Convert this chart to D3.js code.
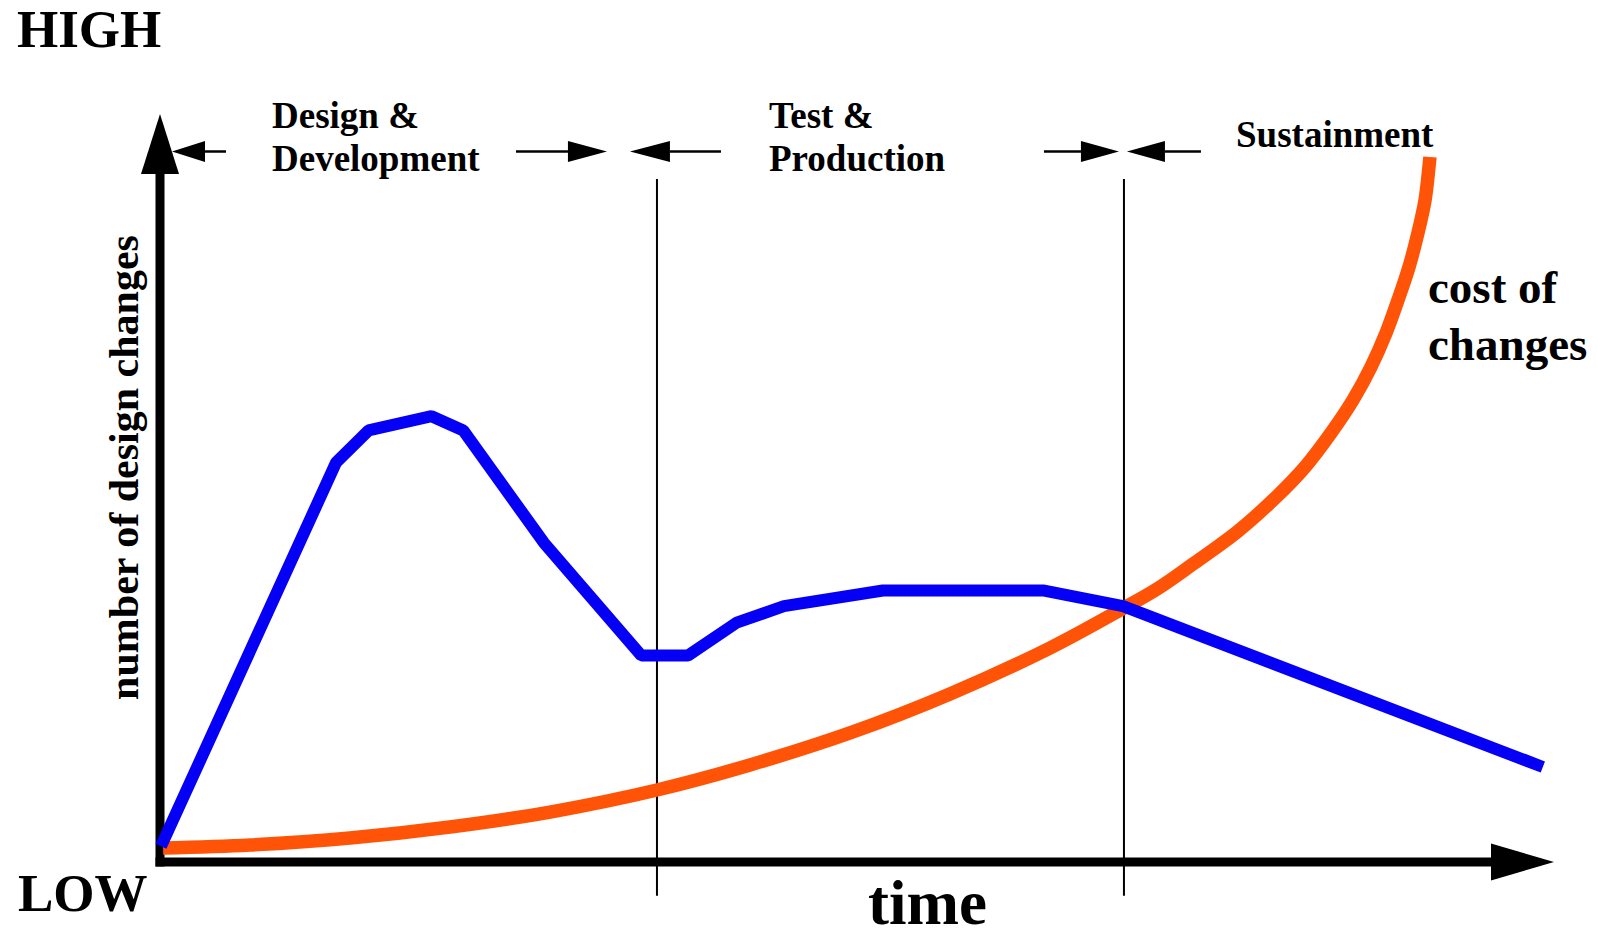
<!DOCTYPE html>
<html>
<head>
<meta charset="utf-8">
<script src="https://cdn.jsdelivr.net/npm/d3@7/dist/d3.min.js"></script>
<style>
  html, body { margin: 0; padding: 0; background: #fff; }
  svg { display: block; }
  text { font-family: "Liberation Serif", "Times New Roman", serif; font-weight: bold; fill: #000; }
</style>
</head>
<body>
<svg id="chart" width="1598" height="933"></svg>
<script>
// ---- data (time 0..100, level 0..100) ----
const designTime   = [0.07, 12.63, 14.96, 19.48, 21.76, 27.53, 34.53, 37.88, 41.37, 44.76, 51.86, 58.75, 63.34, 69.08, 99.2];
const designValues = [2.1, 53.4, 57.7, 59.6, 57.7, 42.7, 27.6, 27.6, 32.0, 34.2, 36.3, 36.3, 36.3, 34.2, 12.7];

const costTime   = [0.22, 6.46, 13.63, 20.80, 27.98, 35.65, 42.32, 49.50, 56.67, 63.85, 69.01, 71.52, 74.10, 77.26, 79.91, 82.14, 84.00, 85.58, 86.87, 87.95, 88.81, 89.60, 90.24, 90.75, 91.03, 91.10];
const costValues = [1.87, 2.27, 3.21, 4.68, 6.68, 9.63, 12.97, 17.25, 22.46, 28.61, 33.82, 36.50, 39.84, 44.12, 48.50, 52.81, 57.35, 61.76, 66.18, 70.72, 75.13, 79.55, 84.09, 88.50, 92.91, 94.25];

const phaseBoundaries = [35.65, 69.15];
const phaseNames = [["Design &", "Development"], ["Test &", "Production"], ["Sustainment"]];
const axisLabels = { high: "HIGH", low: "LOW", x: "time", y: "number of design changes" };
const curveLabel = ["cost of", "changes"];

// ---- scales ----
const x = d3.scaleLinear().domain([0, 100]).range([160, 1554]);
const y = d3.scaleLinear().domain([0, 100]).range([862, 114]);

const svg = d3.select("#chart");

// phase divider lines
svg.selectAll("line.phase").data(phaseBoundaries).enter().append("line")
  .attr("class", "phase")
  .attr("x1", d => x(d)).attr("x2", d => x(d))
  .attr("y1", y(91.3)).attr("y2", y(-4.5))
  .attr("stroke", "#000").attr("stroke-width", 2);

// axes
const axisW = 9;
svg.append("line").attr("x1", x(0)).attr("x2", x(0)).attr("y1", y(0) + axisW / 2).attr("y2", y(100) + 55)
  .attr("stroke", "#000").attr("stroke-width", axisW);
svg.append("line").attr("x1", x(0) - axisW / 2).attr("x2", x(100) - 60).attr("y1", y(0)).attr("y2", y(0))
  .attr("stroke", "#000").attr("stroke-width", axisW);
// arrowheads
svg.append("path")
  .attr("d", `M${x(0)},${y(100)} L${x(0) - 19},${y(100) + 60} L${x(0) + 19},${y(100) + 60} Z`)
  .attr("fill", "#000");
svg.append("path")
  .attr("d", `M${x(100)},${y(0)} L${x(100) - 63},${y(0) - 18.5} L${x(100) - 63},${y(0) + 18.5} Z`)
  .attr("fill", "#000");

// phase arrows
const arrowY = 151.5;
function arrow(tip, base, tail) {
  const g = svg.append("g");
  g.append("line").attr("x1", base).attr("x2", tail).attr("y1", arrowY).attr("y2", arrowY)
    .attr("stroke", "#000").attr("stroke-width", 2.5);
  g.append("path")
    .attr("d", `M${tip},${arrowY} L${base},${arrowY - 10.5} L${base},${arrowY + 10.5} Z`)
    .attr("fill", "#000");
}
const b0 = x(0), b1 = x(phaseBoundaries[0]), b2 = x(phaseBoundaries[1]);
arrow(b0 + 12, b0 + 45, b0 + 66);
arrow(b1 - 50, b1 - 89, b1 - 141);
arrow(b1 - 27, b1 + 13, b1 + 64);
arrow(b2 - 5, b2 - 43, b2 - 80);
arrow(b2 + 3, b2 + 41, b2 + 77);

// phase labels
const labelPos = [[272, 127.5], [769, 127.5], [1236, 147]];
phaseNames.forEach((lines, i) => {
  const t = svg.append("text").attr("x", labelPos[i][0]).attr("y", labelPos[i][1]).attr("font-size", 37);
  lines.forEach((s, j) => {
    t.append("tspan").attr("x", labelPos[i][0]).attr("dy", j === 0 ? 0 : 43.5).text(s);
  });
});

// cost curve
const costData = costTime.map((t, i) => [t, costValues[i]]);
svg.append("path").datum(costData)
  .attr("d", d3.line().x(d => x(d[0])).y(d => y(d[1])).curve(d3.curveCatmullRom.alpha(0.5)))
  .attr("fill", "none").attr("stroke", "#ff5408").attr("stroke-width", 13.5);

// design changes line
const designData = designTime.map((t, i) => [t, designValues[i]]);
svg.append("path").datum(designData)
  .attr("d", d3.line().x(d => x(d[0])).y(d => y(d[1])))
  .attr("fill", "none").attr("stroke", "#0500f5").attr("stroke-width", 12)
  .attr("stroke-linejoin", "bevel");

// texts
svg.append("text").attr("x", 17).attr("y", 47).attr("font-size", 53).text(axisLabels.high);
svg.append("text").attr("x", 18).attr("y", 911).attr("font-size", 53).text(axisLabels.low);
svg.append("text").attr("x", 868).attr("y", 924).attr("font-size", 63).text(axisLabels.x);
svg.append("text").attr("transform", "translate(138,467.5) rotate(-90)")
  .attr("text-anchor", "middle").attr("font-size", 42).text(axisLabels.y);
const cl = svg.append("text").attr("x", 1428).attr("y", 303).attr("font-size", 47);
curveLabel.forEach((s, j) => cl.append("tspan").attr("x", 1428).attr("dy", j === 0 ? 0 : 57).text(s));
</script>
</body>
</html>
